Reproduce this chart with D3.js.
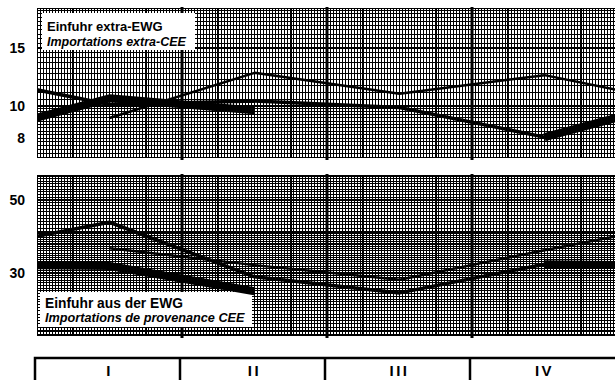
<!DOCTYPE html>
<html><head><meta charset="utf-8">
<script src="https://cdn.jsdelivr.net/npm/d3@7"></script>
<style>html,body{margin:0;padding:0;background:#fff;} svg{display:block}</style>
</head><body>
<svg id="chart" width="615" height="380"></svg>
<script>
// ---------- data ----------
const quarters = ["I", "II", "III", "IV"];
// Einfuhr extra-EWG / Importations extra-CEE : quarterly values, three successive years
const extraYear1 = [9.2, 12.6, 10.9, 12.4];
const extraYear2 = [10.1, 10.35, 9.9, 8.05];
const extraYear3 = [10.55, 9.7];
// Einfuhr aus der EWG / Importations de provenance CEE
const intraYear1 = [35.7, 31.7, 28.6, 35.2];
const intraYear2 = [42.8, 29.2, 26.1, 31.9];
const intraYear3 = [31.5, 26.4];
const topTicks = [15, 10, 8];
const bottomTicks = [50, 30];
const topTitle = ["Einfuhr extra-EWG", "Importations extra-CEE"];
const bottomTitle = ["Einfuhr aus der EWG", "Importations de provenance CEE"];

// ---------- layout ----------
const svg = d3.select("#chart");
const X0 = 37, X1 = 617;
const x = d3.scaleLinear().domain([0, 4]).range([X0, X1]);
const panels = [
  {id: "top", y: d3.scaleLog().domain([6.96, 19.8]).range([158, 8]), top: 8, bottom: 158,
   minor: d3.range(7, 10, 0.2).concat(d3.range(10, 20.01, 0.5)), major: [10, 15, 20],
   ticks: topTicks, y1: extraYear1, y2: extraYear2, y3: extraYear3,
   title: topTitle, box: {x: 42, y: 13, w: 153, h: 37, b1: 30.5, b2: 46, f1: 13, f2: 12.5}},
  {id: "bot", y: d3.scaleLog().domain([19.3, 60]).range([336, 174]), top: 175, bottom: 336,
   minor: d3.range(19.5, 40, 0.5).concat(d3.range(40, 60.01, 1)), major: [20, 30, 40, 50, 60],
   ticks: bottomTicks, y1: intraYear1, y2: intraYear2, y3: intraYear3,
   title: bottomTitle, box: {x: 40, y: 292, w: 212, h: 35, b1: 307.5, b2: 322, f1: 13.8, f2: 12.7}}
];

const line = (y) => d3.line().x(d => x(d.q)).y(d => y(d.v));

panels.forEach((p, pi) => {
  const g = svg.append("g");
  const clipId = "clip" + pi;
  svg.append("clipPath").attr("id", clipId).append("rect")
    .attr("x", X0).attr("y", p.top).attr("width", X1 - X0).attr("height", p.bottom - p.top);

  const grid = g.append("g").attr("shape-rendering", "crispEdges").attr("clip-path", `url(#${clipId})`);
  // vertical graph-paper lines
  const vk = d3.range(0, 4 * 48 + 1);
  grid.selectAll(".v").data(vk).join("line")
    .attr("x1", k => x(k / 48)).attr("x2", k => x(k / 48))
    .attr("y1", p.top).attr("y2", p.bottom)
    .attr("stroke", "#000")
    .attr("stroke-width", k => k % 12 === 0 ? 1.6 : 1);
  // horizontal graph-paper lines (log paper)
  grid.selectAll(".h").data(p.minor).join("line")
    .attr("x1", X0).attr("x2", X1)
    .attr("y1", v => p.y(v)).attr("y2", v => p.y(v))
    .attr("stroke", "#000").attr("stroke-width", 1);
  grid.selectAll(".hm").data(p.major).join("line")
    .attr("x1", X0).attr("x2", X1)
    .attr("y1", v => p.y(v)).attr("y2", v => p.y(v))
    .attr("stroke", "#000").attr("stroke-width", 1.6);
  // frame
  grid.append("rect").attr("x", X0).attr("y", p.top).attr("width", X1 - X0)
    .attr("height", p.bottom - p.top).attr("fill", "none").attr("stroke", "#000").attr("stroke-width", 1.5);

  // quarter boundaries
  g.selectAll(".qb").data([1, 2, 3]).join("line")
    .attr("x1", q => x(q)).attr("x2", q => x(q))
    .attr("y1", p.top - 1).attr("y2", p.bottom + 2)
    .attr("stroke", "#000").attr("stroke-width", 3);

  // title box
  const b = p.box;
  g.append("rect").attr("x", b.x).attr("y", b.y).attr("width", b.w).attr("height", b.h).attr("fill", "#fff");
  g.append("text").attr("x", b.x + 5).attr("y", b.b1).text(p.title[0])
    .attr("font-family", "Liberation Sans, Arial, sans-serif").attr("font-weight", "bold").attr("font-size", b.f1);
  g.append("text").attr("x", b.x + 5).attr("y", b.b2).text(p.title[1])
    .attr("font-family", "Liberation Sans, Arial, sans-serif").attr("font-weight", "bold")
    .attr("font-style", "italic").attr("font-size", b.f2);

  // y axis labels
  const ax = g.append("g").attr("transform", `translate(${X0},0)`)
    .call(d3.axisLeft(p.y).tickValues(p.ticks).tickFormat(d3.format("d")).tickSize(0).tickPadding(12));
  ax.select(".domain").remove();
  ax.selectAll("text").attr("font-family", "Liberation Sans, Arial, sans-serif")
    .attr("font-weight", "bold").attr("font-size", 14).attr("fill", "#000");

  // data series (years drawn continuously across the quarter frame)
  const mid = (arr) => arr.map((v, i) => ({q: i + 0.5, v}));
  const s1 = mid(p.y1).concat([{q: 4.5, v: p.y2[0]}]);
  const s2 = [{q: -0.5, v: p.y1[3]}].concat(mid(p.y2));
  const s3 = [{q: -0.5, v: p.y2[3]}].concat(mid(p.y3));
  const s3b = [{q: 3.5, v: p.y2[3]}, {q: 4.5, v: p.y3[0]}];
  const lg = g.append("g").attr("clip-path", `url(#${clipId})`).attr("fill", "none").attr("stroke", "#000")
    .attr("stroke-linejoin", "round");
  lg.append("path").attr("d", line(p.y)(s1)).attr("stroke-width", 2.5);
  lg.append("path").attr("d", line(p.y)(s2)).attr("stroke-width", 3.5);
  lg.append("path").attr("d", line(p.y)(s3)).attr("stroke-width", 8);
  lg.append("path").attr("d", line(p.y)(s3b)).attr("stroke-width", 8);
});

// quarter label box
const qb = svg.append("g");
qb.append("rect").attr("x", 35).attr("y", 358).attr("width", 600).attr("height", 40)
  .attr("fill", "#fff").attr("stroke", "#000").attr("stroke-width", 2.5);
qb.selectAll(".d").data([1, 2, 3]).join("line")
  .attr("x1", q => x(q) - 2).attr("x2", q => x(q) - 2).attr("y1", 358).attr("y2", 380)
  .attr("stroke", "#000").attr("stroke-width", 2.5);
qb.selectAll(".ql").data(quarters).join("text")
  .attr("x", (d, i) => x(i + 0.5)).attr("y", 376).attr("text-anchor", "middle")
  .attr("font-family", "Liberation Sans, Arial, sans-serif").attr("font-weight", "bold")
  .attr("font-size", 15).attr("letter-spacing", 2.5).text(d => d);
</script>
</body></html>
